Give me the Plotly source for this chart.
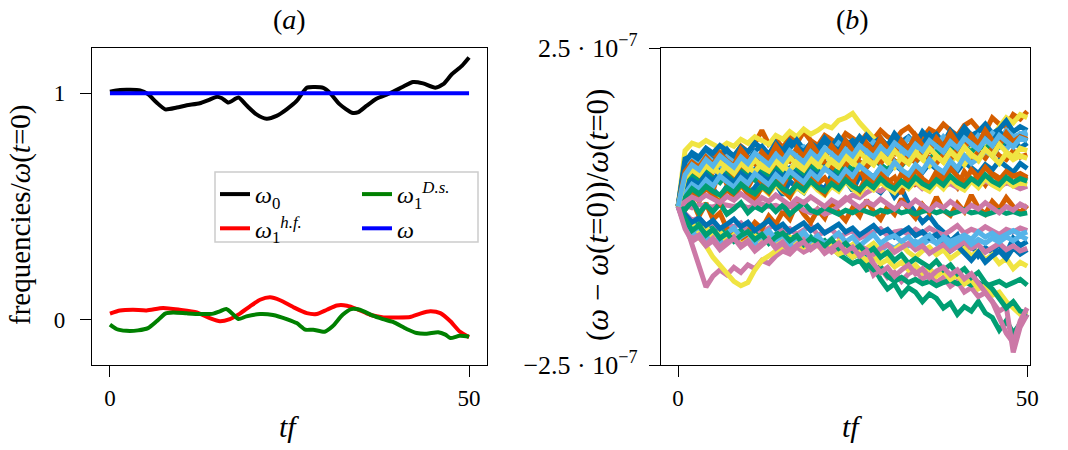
import plotly.graph_objects as go

# ---------------- panel (a) data ----------------
t_omega0 = [0, 1.4, 4.2, 5.3, 6.5, 7.7, 9.3, 10.7, 12.5, 13.7, 14.9, 15.6, 16.5, 17.9, 19.0, 20.4,
            21.8, 23.2, 24.6, 26.0, 27.4, 28.6, 29.7, 30.6, 32.0, 33.7, 34.6, 35.7, 37.1, 39.0,
            40.8, 42.2, 43.6, 45.3, 46.4, 47.6, 49.0, 50.0]
omega0 = [1.007, 1.015, 1.013, 0.996, 0.959, 0.929, 0.937, 0.947, 0.956, 0.970, 0.985, 0.978,
          0.959, 0.981, 0.947, 0.907, 0.888, 0.900, 0.929, 0.966, 1.025, 1.028, 1.024, 1.003,
          0.951, 0.914, 0.917, 0.944, 0.976, 1.000, 1.029, 1.050, 1.044, 1.025, 1.040, 1.084,
          1.121, 1.158]

t_hf = [0, 1.4, 3.2, 5.1, 7.4, 9.7, 12.1, 13.9, 15.3, 16.7, 18.1, 19.5, 20.9, 22.3, 23.7, 25.5,
        27.4, 28.8, 30.2, 31.6, 33.0, 34.4, 36.2, 38.1, 39.9, 41.8, 43.2, 44.6, 46.0, 47.4,
        48.7, 50.0]
omega1_hf = [0.027, 0.041, 0.044, 0.041, 0.052, 0.044, 0.032, 0.007, -0.007, 0.003, 0.027,
             0.059, 0.088, 0.099, 0.086, 0.056, 0.029, 0.025, 0.044, 0.063, 0.062, 0.047,
             0.022, 0.010, 0.010, 0.012, 0.027, 0.037, 0.029, -0.007, -0.052, -0.077]

t_ds = [0, 0.9, 2.3, 3.9, 5.3, 6.5, 7.7, 8.8, 10.7, 12.5, 14.4, 15.3, 16.2, 17.2, 17.9, 19.0,
        20.9, 22.7, 24.6, 26.0, 27.2, 28.3, 29.9, 31.0, 32.4, 33.6, 34.8, 36.6, 38.0, 39.4,
        41.3, 42.7, 44.1, 45.7, 46.7, 47.4, 48.7, 50.0]
omega1_ds = [-0.022, -0.041, -0.049, -0.047, -0.037, -0.007, 0.027, 0.032, 0.028, 0.025, 0.027,
             0.037, 0.047, 0.022, 0.003, 0.015, 0.025, 0.021, 0.003, -0.015, -0.044, -0.044,
             -0.053, -0.029, 0.022, 0.047, 0.044, 0.018, 0.003, -0.010, -0.041, -0.059,
             -0.062, -0.055, -0.066, -0.081, -0.071, -0.074]

t_omega = [0, 50]
omega = [1.0, 1.0]

# ---------------- panel (b) data (units of 1e-9) ----------------
T_B = list(range(0, 51))
UNIT_B = 1e-9
colors_b = ["#0072B2", "#009E73", "#D55E00", "#CC79A7", "#F0E442", "#56B4E9"]

dev = [
    [0, 55, 62, 48, 70, 58, 66, 52, 60, 74, 63, 70, 58, 77, 68, 85, 72, 80, 66, 90, 78, 84, 95, 80, 88, 76, 92, 85, 98, 82, 90, 104, 88, 95, 80, 93, 99, 86, 102, 94, 88, 105, 96, 110, 92, 101, 118, 97, 105, 92, 100],
    [0, -20, -35, -28, -42, -30, -45, -38, -50, -40, -55, -48, -52, -44, -58, -50, -62, -55, -48, -66, -58, -70, -64, -75, -82, -90, -85, -100, -95, -115, -130, -122, -140, -128, -135, -150, -138, -145, -160, -152, -170, -158, -165, -150, -168, -175, -195, -180, -200, -185, -170],
    [0, 65, 80, 70, 88, 75, 92, 84, 78, 95, 86, 100, 120, 98, 106, 92, 110, 100, 118, 104, 96, 112, 105, 98, 115, 108, 100, 114, 106, 120, 110, 104, 118, 125, 112, 108, 122, 116, 130, 120, 112, 128, 135, 122, 118, 140, 130, 126, 145, 138, 150],
    [0, -25, -60, -95, -127, -110, -100, -108, -96, -104, -92, -98, -85, -90, -78, -70, -75, -64, -72, -66, -60, -68, -62, -70, -64, -72, -66, -80, -108, -98, -112, -104, -118, -106, -100, -114, -108, -120, -112, -126, -118, -135, -128, -142, -136, -150, -165, -158, -230, -190, -170],
    [0, 88, 100, 96, 104, 98, 92, 100, 95, 106, 100, 110, 104, 98, 112, 106, 118, 110, 122, 114, 120, 128, 124, 136, 140, 147, 132, 120, 108, 96, 90, 84, 92, 78, 88, 80, 74, 86, 78, 70, 82, 76, 90, 84, 96, 110, 125, 140, 132, 145, 140],
    [0, 30, 45, 38, 52, 44, 40, 55, 48, 42, 58, 50, 62, 54, 48, 65, 58, 70, 62, 75, 68, 60, 78, 70, 85, 76, 90, 80, 72, 88, 82, 95, 86, 78, 92, 100, 88, 96, 84, 102, 94, 108, 98, 90, 104, 112, 100, 108, 96, 115, 110],
    [0, 20, 35, 22, 40, 28, 15, 32, 25, 38, 20, 30, 45, 26, 36, 18, 40, 30, 22, 45, 34, 28, 50, 36, 42, 25, 48, 38, 30, 22, 35, 15, 28, 5, -10, -25, -15, -30, -40, -55, -45, -70, -60, -78, -65, -72, -58, -75, -50, -62, -55],
    [0, -15, -25, -20, -35, -28, -40, -32, -45, -38, -30, -42, -36, -50, -44, -38, -52, -46, -55, -48, -60, -54, -66, -58, -72, -80, -75, -90, -100, -95, -110, -118, -112, -120, -115, -122, -118, -125, -120, -116, -122, -118, -124, -120, -126, -122, -118, -125, -120, -115, -124],
    [0, 40, 55, 30, 48, 25, 60, 35, 20, 45, 30, 50, 38, 22, 44, 32, 55, 40, 28, 50, 36, 45, 30, 58, 42, 35, 60, 40, 30, 52, 38, 46, 20, 55, 35, 42, 28, 50, 36, 44, 30, 55, 40, 48, 34, 52, 45, 38, 50, 42, 48],
    [0, -10, -22, -18, -30, -25, -35, -28, -32, -26, -38, -30, -42, -34, -28, -40, -35, -44, -38, -30, -45, -40, -36, -48, -42, -38, -50, -44, -40, -35, -46, -40, -38, -44, -36, -42, -34, -40, -45, -38, -30, -42, -36, -40, -32, -38, -44, -36, -40, -34, -38],
    [0, -20, -35, -48, -62, -80, -92, -105, -118, -125, -120, -100, -85, -78, -70, -62, -68, -58, -64, -56, -62, -70, -66, -75, -70, -80, -74, -85, -78, -90, -84, -95, -88, -100, -92, -105, -98, -110, -102, -115, -108, -122, -115, -130, -125, -140, -135, -150, -160, -170, -165],
    [0, -30, -45, -38, -52, -44, -58, -50, -42, -55, -48, -60, -52, -46, -58, -50, -62, -55, -48, -60, -52, -58, -65, -56, -70, -62, -68, -75, -64, -70, -60, -66, -58, -62, -55, -60, -52, -58, -48, -55, -50, -45, -52, -40, -48, -42, -50, -45, -38, -44, -40],
    [0, 75, 80, 68, 85, 72, 78, 90, 76, 84, 70, 88, 95, 82, 100, 86, 92, 105, 90, 98, 85, 102, 94, 110, 96, 104, 92, 112, 100, 108, 95, 115, 102, 110, 98, 118, 106, 114, 100, 120, 108, 125, 112, 118, 130, 115, 122, 135, 118, 126, 120],
    [0, 35, 48, 40, 55, 46, 38, 52, 44, 60, 50, 42, 56, 48, 62, 54, 46, 58, 50, 64, 56, 68, 60, 52, 66, 58, 70, 62, 74, 66, 58, 72, 64, 78, 70, 82, 74, 86, 78, 90, 82, 94, 86, 98, 90, 102, 94, 106, 98, 108, 104],
    [0, -5, 10, -15, 5, -20, -10, -35, -50, -60, -40, -25, -35, -15, -28, -8, -20, 5, -12, -25, -5, -18, 8, -10, -22, -2, -15, 10, -8, -20, 0, -12, 12, -5, -18, 3, -10, 15, -6, -14, 5, -8, 18, -2, -12, 8, -4, 14, 0, -10, 2],
    [0, 2, -2, 3, 1, -1, 4, 2, 0, 3, -2, 1, 4, 0, 2, -3, -1, 2, -6, -10, -4, -12, -8, 2, 10, 18, 14, 22, 28, 24, 32, 26, 35, 30, 38, 28, 34, 40, 32, 36, 30, 38, 42, 34, 40, 36, 30, 38, 34, 28, 32],
    [0, -15, -28, -40, -32, -48, -40, -55, -45, -60, -52, -46, -58, -50, -62, -55, -48, -60, -52, -64, -56, -70, -62, -55, -68, -60, -74, -66, -58, -70, -78, -68, -60, -72, -80, -70, -64, -76, -68, -82, -74, -66, -78, -70, -84, -76, -90, -82, -98, -88, -94],
    [0, 60, 72, 65, 80, 70, 62, 78, 70, 85, 74, 68, 82, 76, 90, 80, 72, 88, 94, 84, 78, 92, 86, 100, 90, 84, 96, 88, 102, 94, 86, 100, 92, 108, 98, 90, 104, 96, 110, 100, 94, 106, 98, 112, 104, 116, 106, 120, 110, 114, 118],
    [0, -12, -25, -18, -30, -22, -35, -28, -20, -32, -25, -38, -30, -22, -35, -28, -40, -32, -26, -38, -30, -42, -35, -28, -40, -34, -45, -38, -30, -42, -36, -48, -40, -34, -46, -40, -50, -44, -58, -70, -62, -75, -85, -72, -88, -78, -70, -82, -65, -75, -68],
    [0, -5, 8, -10, 2, -8, 5, -12, -4, 6, -10, 0, -6, 4, -8, 2, -12, -4, 6, -6, -10, -2, -8, -12, -6, -10, -4, -8, -12, -6, -9, -4, -10, -7, -12, -8, -5, -10, -6, -12, -9, -5, -10, -8, -13, -9, -6, -11, -8, -12, -10],
    [0, 45, 60, 50, 68, 55, 72, 62, 50, 66, 58, 74, 64, 56, 70, 62, 78, 66, 58, 72, 80, 68, 60, 76, 64, 82, 70, 62, 78, 68, 84, 72, 66, 80, 70, 88, 76, 68, 82, 74, 90, 78, 72, 86, 76, 92, 80, 74, 88, 78, 82],
    [0, -30, -52, -45, -60, -50, -65, -55, -48, -62, -54, -68, -58, -50, -64, -56, -70, -60, -52, -66, -58, -62, -72, -64, -58, -70, -62, -68, -75, -66, -60, -72, -64, -58, -68, -62, -74, -66, -60, -70, -64, -56, -66, -60, -72, -64, -58, -68, -62, -70, -66],
    [0, 10, 25, 15, 30, 20, 12, 28, 18, 32, 22, 14, 30, 20, 35, 24, 16, 30, 22, 38, 26, 18, 32, 24, 40, 28, 20, 34, 26, 38, 30, 22, 36, 28, 40, 30, 24, 38, 28, 42, 32, 26, 40, 30, 44, 34, 28, 42, 32, 38, 35],
    [0, -25, -40, -32, -45, -36, -50, -42, -34, -48, -40, -55, -46, -38, -52, -44, -58, -48, -40, -54, -46, -60, -50, -42, -56, -48, -62, -52, -44, -58, -50, -46, -55, -48, -60, -52, -45, -58, -50, -62, -54, -48, -60, -52, -58, -50, -56, -48, -54, -46, -52],
    [0, 30, 42, 35, 50, 40, 55, 45, 38, 52, 44, 58, 48, 40, 54, 46, 60, 50, 42, 56, 48, 62, 52, 44, 58, 50, 64, 54, 46, 60, 52, 66, 56, 48, 62, 54, 68, 58, 50, 64, 56, 70, 60, 52, 66, 58, 72, 62, 54, 68, 60],
    [0, -20, -38, -30, -45, -36, -50, -42, -55, -46, -40, -52, -44, -58, -48, -42, -54, -46, -60, -50, -56, -62, -52, -66, -58, -70, -62, -74, -66, -80, -72, -85, -76, -90, -82, -88, -96, -86, -100, -92, -106, -98, -112, -104, -120, -130, -145, -160, -150, -165, -168],
    [0, 12, 25, 8, 30, 18, 5, 28, 15, 35, 20, 10, 32, 22, 40, 26, 15, 38, 28, 45, 30, 20, 42, 32, 50, 36, 25, 48, 38, 55, 42, 30, 52, 40, 58, 44, 35, 55, 42, 60, 48, 38, 58, 46, 62, 50, 42, 55, 48, 52, 46],
    [0, -35, -55, -48, -62, -54, -68, -58, -50, -64, -56, -70, -60, -52, -66, -58, -72, -62, -56, -68, -60, -74, -66, -58, -72, -64, -78, -70, -90, -104, -96, -110, -100, -92, -106, -98, -112, -102, -96, -108, -100, -114, -106, -120, -135, -150, -175, -200, -215, -180, -160],
    [0, 50, 62, 55, 70, 60, 52, 66, 58, 74, 62, 54, 70, 60, 76, 64, 56, 72, 62, 80, 66, 58, 74, 64, 82, 70, 60, 76, 66, 84, 72, 62, 78, 68, 86, 74, 64, 80, 70, 88, 76, 66, 82, 72, 90, 78, 68, 84, 74, 80, 76],
    [0, 20, 35, 28, 42, 32, 48, 38, 30, 45, 36, 52, 42, 34, 50, 40, 56, 46, 38, 54, 44, 60, 50, 42, 58, 48, 64, 54, 46, 62, 52, 70, 58, 50, 66, 56, 74, 62, 54, 72, 60, 80, 68, 76, 88, 80, 96, 90, 104, 112, 110],
    [0, 70, 85, 78, 92, 84, 96, 88, 80, 94, 86, 100, 90, 82, 98, 88, 104, 94, 86, 100, 92, 108, 96, 88, 104, 94, 110, 98, 90, 106, 96, 112, 100, 92, 108, 98, 114, 102, 94, 110, 100, 116, 104, 96, 112, 102, 118, 106, 98, 110, 104],
    [0, 15, 28, 20, 32, 24, 18, 30, 22, 35, 26, 20, 32, 24, 38, 28, 22, 34, 26, 40, 30, 24, 36, 28, 42, 32, 26, 38, 30, 44, 34, 28, 40, 32, 46, 36, 30, 42, 34, 48, 38, 32, 44, 36, 50, 40, 34, 46, 38, 44, 40],
    [0, 55, 70, 62, 78, 66, 84, 72, 64, 90, 76, 68, 86, 74, 96, 80, 72, 92, 78, 100, 84, 76, 96, 82, 104, 88, 80, 100, 86, 108, 92, 84, 104, 90, 112, 96, 88, 108, 94, 116, 100, 92, 112, 98, 120, 104, 96, 116, 102, 110, 106],
    [0, 8, 15, 10, 18, 12, 6, 16, 10, 20, 12, 4, 14, 8, 18, 10, 2, 12, 6, 15, 8, 0, 10, 4, 14, 6, -2, 8, 2, 12, 4, -4, 6, 0, 10, 2, -6, 4, -2, 8, 0, -8, 2, -4, 6, -2, -10, 0, -6, 4, -2],
    [0, 45, 58, 50, 64, 56, 70, 60, 52, 68, 58, 74, 62, 56, 72, 60, 78, 66, 58, 74, 64, 82, 70, 62, 78, 68, 86, 74, 66, 82, 70, 88, 76, 68, 84, 74, 92, 80, 70, 86, 76, 94, 82, 74, 90, 80, 98, 86, 78, 92, 88],
    [0, 50, 66, 58, 74, 64, 80, 70, 62, 78, 68, 84, 74, 66, 82, 72, 88, 78, 70, 86, 76, 92, 82, 74, 90, 80, 96, 86, 78, 94, 84, 100, 90, 82, 98, 88, 104, 94, 86, 102, 92, 108, 98, 90, 106, 96, 112, 102, 94, 108, 104],
]

left_xticks = [0, 50]
left_yticks = [0, 1]
right_xticks = [0, 50]
right_yticks = [2.5e-7, -2.5e-7]
right_yticktext = ["2.5&nbsp;·&nbsp;10<sup>−7</sup>", "−2.5&nbsp;·&nbsp;10<sup>−7</sup>"]

FONT = "Liberation Serif"
W, H = 1068, 450


def px(x):
    return x / W


def py(y):
    return 1 - y / H


fig = go.Figure()

# panel (a)
fig.add_trace(go.Scatter(x=t_omega0, y=omega0, mode="lines", name="<i>ω</i><sub>0</sub>",
                         line=dict(color="black", width=4, shape="spline", smoothing=0.6),
                         legend="legend", xaxis="x", yaxis="y"))
fig.add_trace(go.Scatter(x=t_hf, y=omega1_hf, mode="lines",
                         name="<i>ω</i><sub>1</sub><sup><i>h.f.</i></sup>",
                         line=dict(color="#FF0000", width=4, shape="spline", smoothing=0.6),
                         legend="legend", xaxis="x", yaxis="y"))
fig.add_trace(go.Scatter(x=t_ds, y=omega1_ds, mode="lines",
                         name="<i>ω</i><sub>1</sub><sup><i>D.s.</i></sup>",
                         line=dict(color="#008000", width=4, shape="spline", smoothing=0.6),
                         legend="legend2", xaxis="x", yaxis="y"))
fig.add_trace(go.Scatter(x=t_omega, y=omega, mode="lines", name="<i>ω</i>",
                         line=dict(color="#0000FF", width=4),
                         legend="legend2", xaxis="x", yaxis="y"))

# panel (b)
for i, series in enumerate(dev):
    fig.add_trace(go.Scatter(x=T_B, y=[v * UNIT_B for v in series], mode="lines",
                             line=dict(color=colors_b[i % 6], width=5),
                             showlegend=False, xaxis="x2", yaxis="y2", hoverinfo="skip"))

axis_common = dict(showline=True, linecolor="black", linewidth=1.3, mirror=True,
                   ticks="outside", ticklen=11, tickwidth=1.3, tickcolor="black",
                   showgrid=False, zeroline=False, automargin=False)
tickfont = dict(family=FONT, size=23, color="black")

legend_common = dict(xanchor="left", yanchor="top", orientation="v",
                     bgcolor="rgba(0,0,0,0)", borderwidth=0, tracegroupgap=0,
                     font=dict(family=FONT, size=24, color="black"), traceorder="normal")

fig.update_layout(
    width=W, height=H,
    margin=dict(l=0, r=0, t=0, b=0),
    paper_bgcolor="white", plot_bgcolor="white",
    font=dict(family=FONT, color="black"),
    xaxis=dict(domain=[px(92), px(487)], range=[-2.5, 52.5], tickvals=left_xticks,
               ticklabelstandoff=1, anchor="y", tickfont=tickfont, **axis_common),
    yaxis=dict(domain=[py(365), py(48)], range=[-0.2, 1.2], tickvals=left_yticks,
               ticklabelstandoff=10, anchor="x", tickfont=tickfont, **axis_common),
    xaxis2=dict(domain=[px(661), px(1030)], range=[-2.44, 50.4], tickvals=right_xticks,
                ticklabelstandoff=1, anchor="y2", tickfont=tickfont, **axis_common),
    yaxis2=dict(domain=[py(365), py(48)], range=[-2.5e-7, 2.5e-7],
                tickvals=right_yticks, ticktext=right_yticktext,
                ticklabelstandoff=6, anchor="x2",
                tickfont=dict(family=FONT, size=26, color="black"), **axis_common),
    legend=dict(x=px(215), y=py(172), **legend_common),
    legend2=dict(x=px(357), y=py(172), **legend_common),
    showlegend=True,
)

# legend frame
fig.add_shape(type="rect", xref="paper", yref="paper",
              x0=px(215), x1=px(478), y0=py(242), y1=py(172),
              line=dict(color="#CCCCCC", width=1.5), fillcolor="rgba(255,255,255,0.8)",
              layer="above")

ann = [
    dict(text="(<i>a</i>)", x=px(289), y=py(20), size=28),
    dict(text="(<i>b</i>)", x=px(852), y=py(20), size=28),
    dict(text="<i>tf</i>", x=px(289), y=py(426), size=30),
    dict(text="<i>tf</i>", x=px(852), y=py(426), size=30),
]
for a in ann:
    fig.add_annotation(text=a["text"], x=a["x"], y=a["y"], xref="paper", yref="paper",
                       xanchor="center", yanchor="middle", showarrow=False,
                       font=dict(family=FONT, size=a["size"], color="black"))

fig.add_annotation(text="frequencies/<i>ω</i>(<i>t</i>=0)", x=px(20), y=py(215),
                   xref="paper", yref="paper", xanchor="center", yanchor="middle",
                   textangle=-90, showarrow=False,
                   font=dict(family=FONT, size=29, color="black"))
fig.add_annotation(text="(<i>ω</i> − <i>ω</i>(<i>t</i>=0))/<i>ω</i>(<i>t</i>=0)",
                   x=px(597), y=py(215),
                   xref="paper", yref="paper", xanchor="center", yanchor="middle",
                   textangle=-90, showarrow=False,
                   font=dict(family=FONT, size=31, color="black"))

fig.write_html("out.html", config={"displayModeBar": False},
               post_script="document.body.style.margin='0';")
